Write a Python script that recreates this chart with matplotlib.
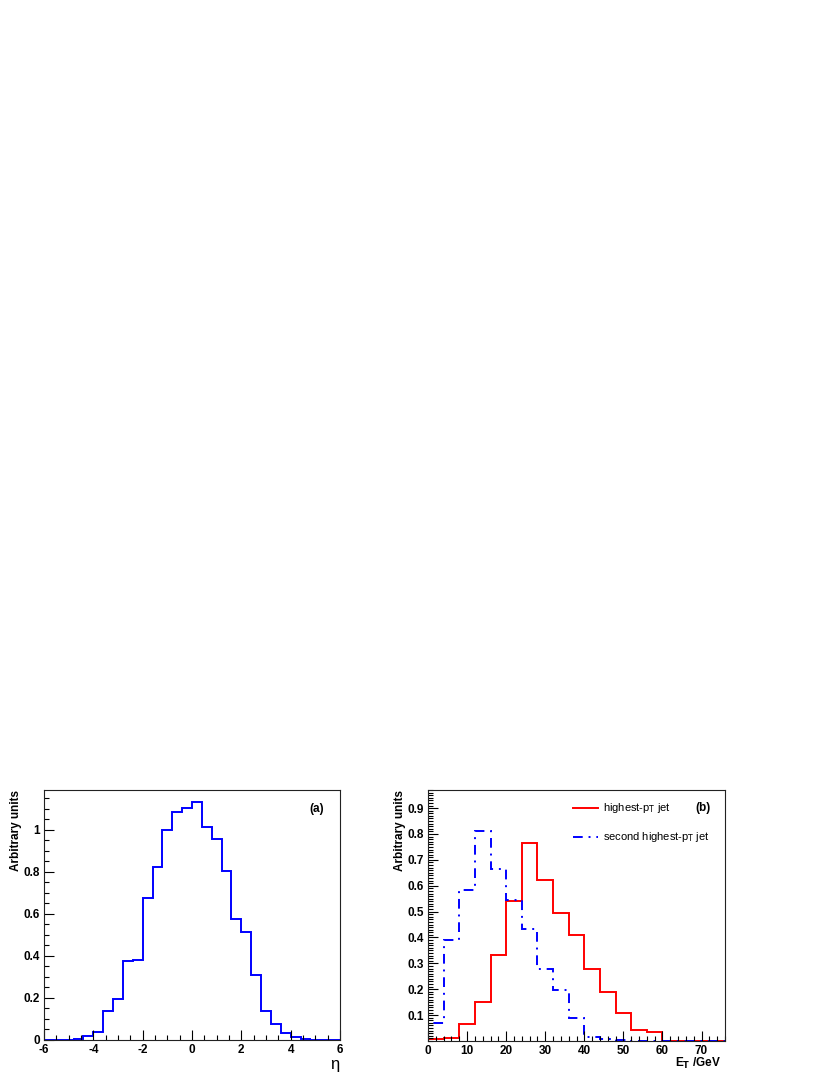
import numpy as np
import matplotlib
matplotlib.use('Agg')
import matplotlib.pyplot as plt
from matplotlib.ticker import MultipleLocator, FixedLocator, FuncFormatter

plt.rcParams['font.family'] = ['Liberation Sans', 'DejaVu Sans']

# (a) jet pseudorapidity, 0.4 wide bins from -6 to 6
ETA_EDGES = np.round(np.arange(-6.0, 6.0001, 0.4), 2)
ETA_VALUES = [0.0, 0.0, 0.0, 0.003, 0.02, 0.04, 0.14, 0.197, 0.378, 0.381,
              0.678, 0.824, 0.998, 1.087, 1.105, 1.135, 1.016, 0.959, 0.806, 0.575,
              0.516, 0.31, 0.138, 0.076, 0.035, 0.014, 0.005, 0.001, 0.0, 0.0]

# (b) jet E_T, 4 GeV bins from 0 to 76
ET_EDGES = np.arange(0, 77, 4)
ET_LEAD = [0.009, 0.013, 0.065, 0.151, 0.333, 0.542, 0.765, 0.621, 0.494, 0.41,
           0.28, 0.191, 0.107, 0.044, 0.036, 0.001, 0.0, 0.0, 0.0]
ET_SECOND = [0.068, 0.392, 0.582, 0.81, 0.665, 0.543, 0.433, 0.277, 0.196, 0.089,
             0.014, 0.008, 0.004, 0.0, 0.0, 0.0, 0.0, 0.0, 0.0]

W, H = 830, 1075
fig = plt.figure(figsize=(W / 100, H / 100), dpi=100)
ax_a = fig.add_axes([44 / W, 35 / H, 296 / W, 250 / H])
ax_b = fig.add_axes([428 / W, 34 / H, 297 / W, 251 / H])

fmt = FuncFormatter(lambda v, p: f'{v:g}')
DASHDOT = (0, (5, 3, 1, 3))


def px(x, y):
    # pixel position (from top-left) -> figure fraction
    return x / W, 1 - y / H


def root_style(ax):
    for s in ax.spines.values():
        s.set_linewidth(0.8)
        s.set_color('#222222')
    ax.tick_params(which='both', direction='in', top=False, right=False,
                   labelsize=8.5, width=0.8, pad=3)
    ax.tick_params(which='major', length=7)
    ax.tick_params(which='minor', length=3.5)
    ax.xaxis.set_major_formatter(fmt)
    ax.yaxis.set_major_formatter(fmt)


# ---- panel (a)
ax_a.stairs(ETA_VALUES, ETA_EDGES, color='#0000ff', linewidth=1.4)
ax_a.set_xlim(-6, 6)
ax_a.set_ylim(0, 1.19)
ax_a.xaxis.set_major_locator(MultipleLocator(2))
ax_a.xaxis.set_minor_locator(MultipleLocator(0.5))
ax_a.yaxis.set_major_locator(MultipleLocator(0.2))
ax_a.yaxis.set_minor_locator(MultipleLocator(0.05))
root_style(ax_a)
for lab in ax_a.get_xticklabels() + ax_a.get_yticklabels():
    lab.set_fontweight('bold')
fig.text(*px(16, 790), 'Arbitrary units', rotation=90, ha='center', va='top',
         fontsize=8.5, fontweight='bold')
fig.text(*px(335, 1065), '\u03b7', ha='center', va='center', fontsize=12)
ax_a.text(0.92, 0.925, '(a)', transform=ax_a.transAxes, fontsize=8.5,
          fontweight='bold', ha='center', va='center')

# ---- panel (b)
ax_b.stairs(ET_LEAD, ET_EDGES, color='#ff0000', linewidth=1.4)
ax_b.stairs(ET_SECOND, ET_EDGES, color='#0000ff', linewidth=1.4,
            linestyle=DASHDOT)
ax_b.set_xlim(0, 76)
ax_b.set_ylim(0, 0.97)
ax_b.xaxis.set_major_locator(MultipleLocator(10))
ax_b.xaxis.set_minor_locator(MultipleLocator(2))
ax_b.yaxis.set_major_locator(FixedLocator([0.1, 0.2, 0.3, 0.4, 0.5, 0.6, 0.7, 0.8, 0.9]))
ax_b.yaxis.set_minor_locator(MultipleLocator(0.01))
root_style(ax_b)
for lab in ax_b.get_xticklabels() + ax_b.get_yticklabels():
    lab.set_fontweight('bold')
fig.text(*px(400, 790), 'Arbitrary units', rotation=90, ha='center', va='top',
         fontsize=8.5, fontweight='bold')
fig.text(*px(721, 1063), r'E$_\mathbf{T}$ /GeV', ha='right', va='center',
         fontsize=8.5, fontweight='bold')
ax_b.text(*px(703, 808), '(b)', transform=fig.transFigure, fontsize=8.5,
          fontweight='bold', ha='center', va='center')

# legend drawn by hand
ax_b.plot([573 / W, 598 / W], [1 - 808 / H] * 2, transform=fig.transFigure,
          color='#ff0000', linewidth=1.4)
fig.text(*px(603, 808), r'highest-p$_\mathrm{T}$ jet',
         fontsize=8, ha='left', va='center')
ax_b.plot([573 / W, 598 / W], [1 - 837 / H] * 2, transform=fig.transFigure,
          color='#0000ff', linewidth=1.4, linestyle=DASHDOT)
fig.text(*px(603, 837), r'second highest-p$_\mathrm{T}$ jet',
         fontsize=8, ha='left', va='center')

fig.savefig('out.png', dpi=100)
